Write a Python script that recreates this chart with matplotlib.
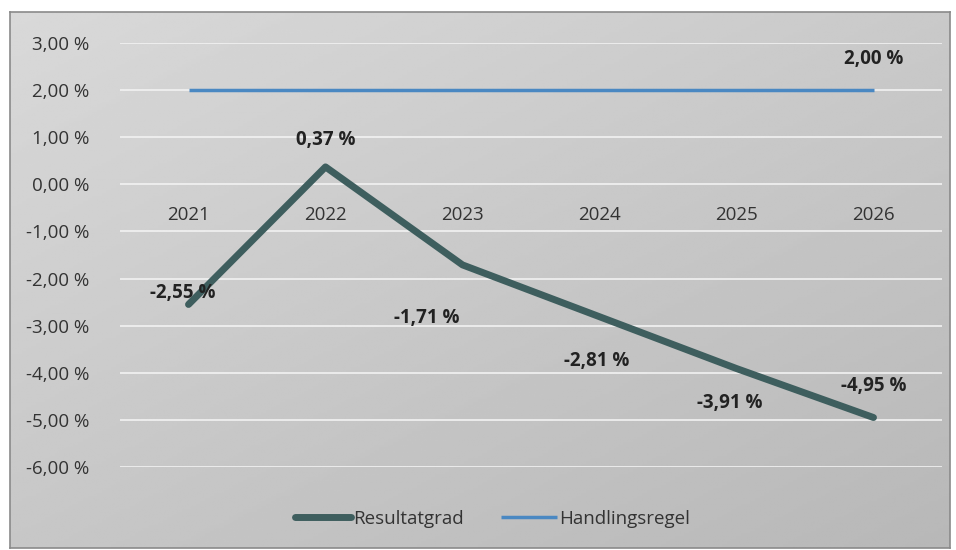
import numpy as np
import matplotlib.pyplot as plt

years = ['2021', '2022', '2023', '2024', '2025', '2026']
resultatgrad = [-2.55, 0.37, -1.71, -2.81, -3.91, -4.95]
handlingsregel = [2.00, 2.00, 2.00, 2.00, 2.00, 2.00]
y_ticks = [3, 2, 1, 0, -1, -2, -3, -4, -5, -6]

plt.rcParams['font.family'] = ['Open Sans', 'DejaVu Sans']
FS = 13.5

W, H = 956, 550
fig = plt.figure(figsize=(W / 100, H / 100), dpi=100)
fig.patch.set_facecolor('white')

# chart frame with grey gradient
fx0, fy0, fx1, fy1 = 10, 12, 950, 548
bg = fig.add_axes([fx0 / W, 1 - fy1 / H, (fx1 - fx0) / W, (fy1 - fy0) / H])
gx, gy = np.meshgrid(np.linspace(0, 1, 200), np.linspace(0, 1, 200))
grad = 0.85 - 0.06 * gx - 0.07 * gy
bg.imshow(grad, cmap='gray', vmin=0, vmax=1, aspect='auto', extent=[0, 1, 0, 1], origin='upper')
bg.set_xticks([])
bg.set_yticks([])
for s in bg.spines.values():
    s.set_color('#8a8a8a')
    s.set_linewidth(1.2)

# plot area
px0, px1 = 120, 942
py_top, py_bot = 43, 467
ax = fig.add_axes([px0 / W, 1 - py_bot / H, (px1 - px0) / W, (py_bot - py_top) / H])
ax.patch.set_alpha(0)
x = np.arange(len(years))
ax.set_xlim(-0.5, len(years) - 0.5)
ax.set_ylim(-6, 3)
ax.set_yticks(y_ticks)
ax.set_yticklabels([f'{v:.2f} %'.replace('.', ',') for v in y_ticks], fontsize=FS, color='#333333')
ax.tick_params(axis='y', length=0, pad=22)
ax.set_xticks([])
for s in ax.spines.values():
    s.set_visible(False)
ax.grid(axis='y', color='#f2f2f2', linewidth=1.2)
ax.set_axisbelow(True)

for i, yr in enumerate(years):
    ax.text(i, -0.66, yr, ha='center', va='center', fontsize=FS, color='#333333')

ax.plot(x, handlingsregel, color='#4a88c2', linewidth=2.5, label='Handlingsregel', solid_capstyle='butt')
ax.plot(x, resultatgrad, color='#3e5e5e', linewidth=5, label='Resultatgrad', solid_capstyle='round')

def pct(v):
    return f'{v:.2f} %'.replace('.', ',')

offsets = [(-0.04, 0.25), (0, 0.58), (-0.26, -1.13), (-0.02, -0.94), (-0.05, -0.74), (0, 0.66)]
for i, (v, (dx, dy)) in enumerate(zip(resultatgrad, offsets)):
    ax.text(i + dx, v + dy, pct(v), ha='center', va='center', fontsize=FS,
            fontweight='bold', color='#222222')
ax.text(5, handlingsregel[-1] + 0.66, pct(handlingsregel[-1]), ha='center', va='center',
        fontsize=FS, fontweight='bold', color='#222222')

handles, labels = ax.get_legend_handles_labels()
leg = fig.legend(handles[::-1], labels[::-1], loc='center', bbox_to_anchor=(0.515, 1 - 519 / H),
                 ncol=2, frameon=False, fontsize=FS, handlelength=3.0, columnspacing=2.0,
                 handletextpad=0.1)
for t in leg.get_texts():
    t.set_color('#333333')

fig.savefig('out.png', dpi=100)
